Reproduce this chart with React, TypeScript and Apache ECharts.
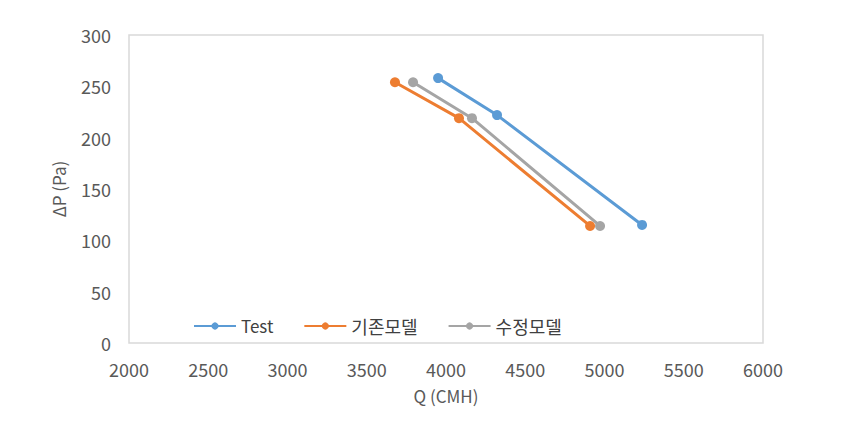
import React, { useEffect, useRef } from "react";
import * as echarts from "echarts";

const seriesNames = ["Test", "기존모델", "수정모델"];
const testQ = [3950, 4322, 5237];
const testP = [258, 222, 115];
const baseQ = [3678, 4082, 4909];
const baseP = [254, 219, 114];
const modQ = [3792, 4164, 4972];
const modP = [254, 219, 114];
const colors = ["#5b9bd5", "#ed7d31", "#a5a5a5"];

const pairs = (xs: number[], ys: number[]) => xs.map((x, i) => [x, ys[i]]);

export default function App() {
  const ref = useRef<HTMLDivElement>(null);
  useEffect(() => {
    if (!ref.current) return;
    const chart = echarts.init(ref.current, undefined, { renderer: "svg" });
    const font = "'Noto Sans CJK KR', 'Open Sans', sans-serif";
    const data = [pairs(testQ, testP), pairs(baseQ, baseP), pairs(modQ, modP)];
    chart.setOption({
      animation: false,
      backgroundColor: "#ffffff",
      textStyle: { fontFamily: font },
      grid: { left: 129, right: 84, top: 35, bottom: 82, show: true, borderColor: "#d9d9d9", borderWidth: 1.5 },
      legend: {
        left: 188,
        top: 312,
        itemWidth: 42,
        itemHeight: 9,
        itemGap: 30,
        textStyle: { color: "#404040", fontSize: 17, fontFamily: font },
        data: [
          { name: seriesNames[0], textStyle: { fontSize: 17 } },
          { name: seriesNames[1], textStyle: { fontSize: 18 } },
          { name: seriesNames[2], textStyle: { fontSize: 18 } },
        ],
      },
      xAxis: {
        type: "value",
        min: 2000,
        max: 6000,
        interval: 500,
        name: "Q (CMH)",
        nameLocation: "middle",
        nameGap: 44,
        nameTextStyle: { color: "#595959", fontSize: 17, fontFamily: font },
        axisLine: { show: false },
        axisTick: { show: false },
        splitLine: { show: false },
        axisLabel: { color: "#595959", fontSize: 18, margin: 17, fontFamily: font, formatter: (v: number) => String(v) },
      },
      yAxis: {
        type: "value",
        min: 0,
        max: 300,
        interval: 50,
        name: "ΔP (Pa)",
        nameLocation: "middle",
        nameGap: 62,
        nameTextStyle: { color: "#595959", fontSize: 17, fontFamily: font },
        axisLine: { show: false },
        axisTick: { show: false },
        splitLine: { show: false },
        axisLabel: { color: "#595959", fontSize: 18, margin: 18, fontFamily: font, formatter: (v: number) => String(v) },
      },
      series: seriesNames.map((name, i) => ({
        name,
        type: "line",
        data: data[i],
        symbol: "circle",
        symbolSize: 10,
        lineStyle: { width: 3, color: colors[i] },
        itemStyle: { color: colors[i] },
      })),
    });
    return () => chart.dispose();
  }, []);
  return <div ref={ref} style={{ width: 847, height: 425, position: "absolute", left: 0, top: 0 }} />;
}
